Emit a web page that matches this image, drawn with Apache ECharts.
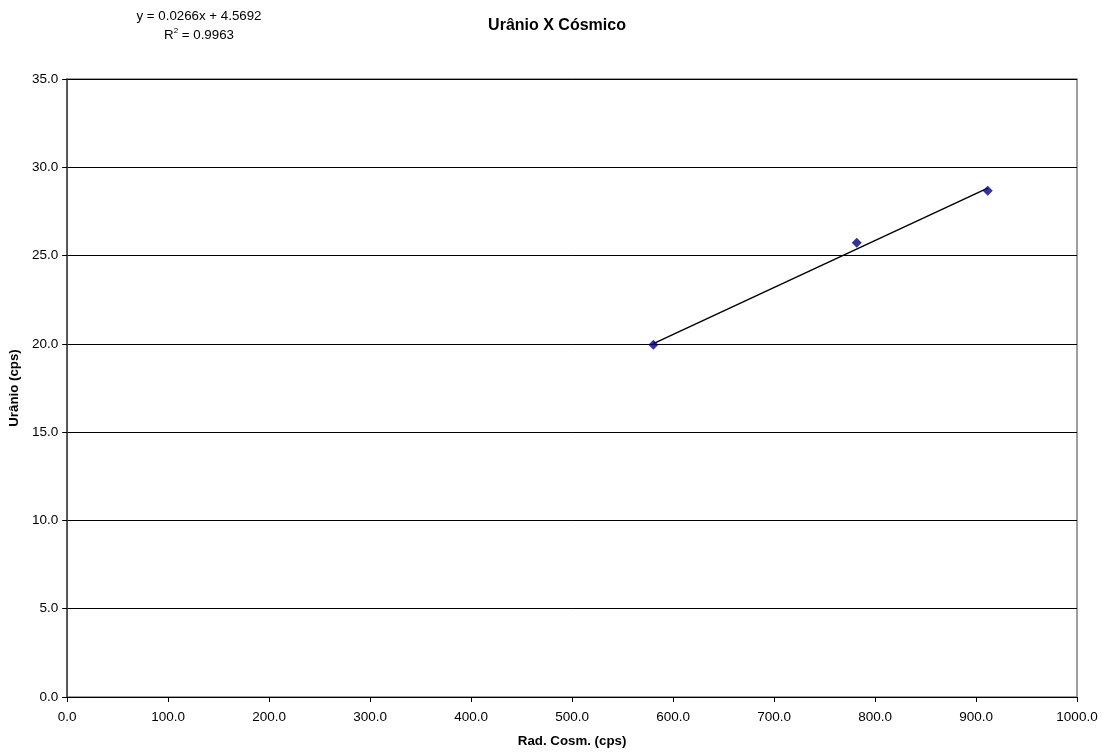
<!DOCTYPE html>
<html>
<head>
<meta charset="utf-8">
<script src="https://cdn.jsdelivr.net/npm/echarts@6/dist/echarts.min.js"></script>
<style>
html,body{margin:0;padding:0;background:#fff;}
#chart{width:1109px;height:754px;}
</style>
</head>
<body>
<div id="chart"></div>
<script>
// Data
const radCosm = [580.5, 781.9, 911.6];
const uranio = [19.95, 25.73, 28.67];
const trendSlope = 0.0266;
const trendIntercept = 4.5692;
const rSquared = 0.9963;
const chartTitle = 'Urânio X Cósmico';
const xName = 'Rad. Cosm. (cps)';
const yName = 'Urânio (cps)';

const points = radCosm.map((x, i) => [x, uranio[i]]);
const xMinT = Math.min(...radCosm), xMaxT = Math.max(...radCosm);
const trend = [[xMinT, trendSlope * xMinT + trendIntercept], [xMaxT, trendSlope * xMaxT + trendIntercept]];

const font = '"Liberation Sans", Arial, sans-serif';
const chart = echarts.init(document.getElementById('chart'), null, {renderer: 'canvas'});
chart.setOption({
  animation: false,
  backgroundColor: '#fff',
  title: {
    text: chartTitle, left: 552, top: 13, textAlign: 'center',
    textStyle: {fontFamily: font, fontSize: 16, fontWeight: 'bold', color: '#000'}
  },
  graphic: [
    {
      type: 'text', x: 199, y: 10,
      style: {text: 'y = ' + trendSlope + 'x + ' + trendIntercept, fontFamily: font, fontSize: 13.3, fill: '#000', textAlign: 'center'}
    },
    {
      type: 'text', x: 199, y: 27,
      style: {
        text: '{n|R}{s|2}{n| = ' + rSquared + '}',
        textAlign: 'center',
        rich: {
          n: {fontFamily: font, fontSize: 13.3, color: '#000', verticalAlign: 'bottom'},
          s: {fontFamily: font, fontSize: 8, color: '#000', verticalAlign: 'top', padding: [0, 0, 7, 0]}
        }
      }
    }
  ],
  grid: {
    left: 67, right: 32, top: 79, bottom: 57,
    show: true, borderColor: '#808080', borderWidth: 1.5, backgroundColor: '#fff'
  },
  xAxis: {
    type: 'value', min: 0, max: 1000, interval: 100,
    name: xName, nameLocation: 'middle', nameGap: 38,
    nameTextStyle: {fontFamily: font, fontSize: 13.3, fontWeight: 'bold', color: '#000'},
    axisLine: {show: true, onZero: false, lineStyle: {color: '#000', width: 1}},
    axisTick: {show: true, inside: false, length: 5, lineStyle: {color: '#000'}},
    axisLabel: {fontFamily: font, fontSize: 13.5, color: '#000', margin: 13, formatter: v => v.toFixed(1)},
    splitLine: {show: false}
  },
  yAxis: {
    type: 'value', min: 0, max: 35, interval: 5,
    name: yName, nameLocation: 'middle', nameGap: 42.5, nameRotate: 90,
    nameTextStyle: {fontFamily: font, fontSize: 13.3, fontWeight: 'bold', color: '#000'},
    axisLine: {show: true, lineStyle: {color: '#404040', width: 1.5}},
    axisTick: {show: true, inside: false, length: 5, lineStyle: {color: '#000'}},
    axisLabel: {fontFamily: font, fontSize: 13.5, color: '#000', margin: 9, formatter: v => v.toFixed(1)},
    splitLine: {show: true, lineStyle: {color: '#000', width: 1}}
  },
  series: [
    {
      type: 'line', data: trend, showSymbol: false, symbol: 'none',
      lineStyle: {color: '#000', width: 1.5}, z: 2, silent: true
    },
    {
      type: 'scatter', data: points, symbol: 'diamond', symbolSize: 10,
      itemStyle: {color: '#000080'}, z: 3
    }
  ]
});
</script>
</body>
</html>
